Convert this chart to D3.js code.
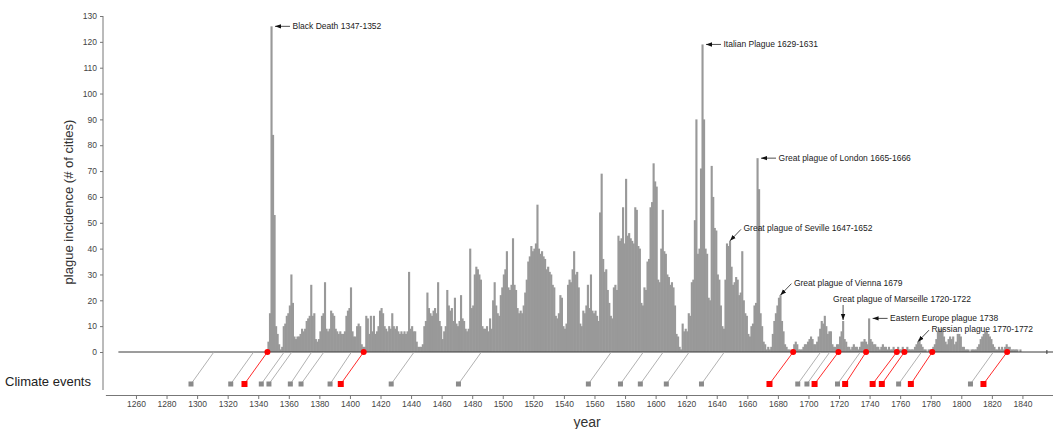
<!DOCTYPE html>
<html>
<head>
<meta charset="utf-8">
<script src="https://cdn.jsdelivr.net/npm/d3@7"></script>
<style>
  body { margin: 0; background: #fff; }
  svg { font-family: "Liberation Sans", Arial, sans-serif; }
</style>
</head>
<body>
<script>
// yearly plague incidence (# of cities), first value is 1346
const firstYear = 1346;
const incidence = [
  4, 15, 126, 84, 53, 10, 7, 3, 1, 2,
  10, 11, 14, 15, 18, 30, 19, 6, 5, 6,
  6, 7, 9, 8, 9, 12, 13, 14, 26, 14,
  15, 5, 4, 5, 8, 14, 15, 27, 9, 8,
  9, 16, 15, 14, 9, 8, 7, 8, 7, 7,
  8, 14, 16, 17, 25, 8, 6, 6, 10, 11,
  10, 3, 2, 2, 14, 13, 7, 14, 8, 14,
  7, 8, 10, 16, 17, 15, 10, 9, 8, 10,
  9, 15, 10, 9, 10, 8, 7, 8, 7, 8,
  7, 8, 31, 9, 10, 8, 8, 4, 2, 2,
  2, 3, 10, 12, 23, 17, 15, 14, 16, 17,       // 1446
  15, 27, 12, 10, 5, 8, 10, 24, 18, 16,
  17, 12, 21, 11, 10, 12, 22, 13, 12, 9,
  8, 9, 40, 17, 18, 30, 33, 32, 30, 28,
  10, 9, 9, 10, 8, 13, 9, 20, 27, 18,
  15, 14, 22, 25, 30, 32, 39, 25, 24, 26,
  44, 26, 24, 17, 15, 16, 15, 18, 23, 28,
  35, 37, 41, 39, 40, 42, 57, 40, 38, 39,
  37, 36, 32, 33, 31, 30, 26, 25, 14, 13,
  15, 22, 21, 10, 9, 11, 26, 28, 27, 32,
  39, 30, 31, 25, 11, 10, 16, 15, 18, 26,     // 1546
  17, 30, 16, 15, 16, 14, 12, 54, 69, 36,
  31, 32, 24, 19, 14, 13, 25, 26, 24, 45,
  43, 44, 56, 42, 67, 45, 46, 44, 43, 42,
  56, 55, 41, 40, 19, 18, 25, 24, 35, 36,
  56, 58, 73, 66, 64, 28, 27, 40, 55, 39,
  38, 30, 29, 26, 27, 25, 18, 7, 6, 2,
  1, 11, 8, 9, 8, 15, 14, 27, 28, 51,
  90, 38, 40, 71, 119, 90, 40, 38, 21, 20,
  72, 60, 48, 47, 30, 28, 18, 10, 9, 28,
  42, 41, 43, 33, 26, 27, 29, 28, 22, 23,     // 1646
  39, 20, 15, 14, 7, 6, 10, 11, 18, 19,
  75, 63, 15, 10, 4, 3, 1, 2, 1, 2,
  7, 12, 15, 18, 21, 22, 12, 8, 3, 2,
  1, 1, 0, 1, 3, 4, 3, 1, 1, 1,
  2, 3, 3, 4, 5, 6, 5, 3, 3, 4,
  6, 9, 12, 11, 14, 10, 7, 8, 8, 3,
  2, 2, 3, 3, 6, 8, 12, 5, 4, 2,
  2, 1, 2, 3, 2, 2, 1, 2, 4, 4,
  5, 4, 3, 13, 5, 4, 3, 3, 2, 2,
  1, 2, 3, 2, 2, 1, 2, 1, 1, 2,              // 1746
  1, 1, 2, 1, 1, 2, 1, 1, 2, 1,
  1, 1, 1, 2, 3, 4, 5, 3, 2, 1,
  1, 0, 1, 1, 1, 2, 3, 5, 8, 9,
  8, 9, 6, 4, 3, 5, 6, 5, 6, 3,
  4, 7, 7, 6, 2, 2, 1, 1, 1, 0,
  1, 1, 1, 1, 2, 3, 5, 6, 7, 8,
  8, 7, 6, 5, 3, 2, 1, 1, 2, 1,
  2, 1, 2, 3, 2, 2, 1, 1, 1, 1,
  1, 0, 1, 0, 0
];

const yTicks = d3.range(0, 131, 10);
const xTicks = d3.range(1260, 1841, 20);

// climate events in Asia and the year the link reaches the plague record
const grayYears    = [1296, 1322, 1342, 1347, 1361, 1368, 1387, 1427, 1471, 1556, 1577, 1590, 1607, 1630, 1693, 1699, 1719, 1759, 1806];
const grayArrivals = [1311, 1337, 1357, 1362, 1375, 1383, 1401, 1442, 1486, 1571, 1592, 1605, 1622, 1645, 1708, 1714, 1734, 1774, 1821];
const redYears     = [1331, 1394, 1674.5, 1704, 1724, 1742, 1748, 1767, 1814.5];
const redArrivals  = [1346, 1409, 1690, 1719.6, 1737.7, 1757.8, 1762.8, 1781, 1830];

const noteTexts = ["Black Death 1347-1352", "Italian Plague 1629-1631", "Great plague of London 1665-1666",
  "Great plague of Seville 1647-1652", "Great plague of Vienna 1679", "Great plague of Marseille 1720-1722",
  "Eastern Europe plague 1738", "Russian plague 1770-1772"];
const noteYears = [1348, 1630, 1666, 1648, 1681, 1722, 1739, 1771];
const noteKinds = ["left", "left", "left", "diag", "diag", "down", "left", "diag"];

const W = 1053, H = 429;
const svg = d3.select("body").append("svg")
    .attr("width", W)
    .attr("height", H);

const x = d3.scaleLinear().domain([1240, 1860]).range([105.4, 1053]);
const y = d3.scaleLinear().domain([0, 130]).range([352, 16]);

const bars = incidence.map((v, i) => ({year: firstYear + i, v: v}));

// bars overlap a little so no white seams show between them
svg.append("g").selectAll("rect")
    .data(bars)
    .enter()
    .append("rect")
    .attr("x", d => x(d.year))
    .attr("width", d => x(d.year + 1) - x(d.year) + 0.6)
    .attr("y", d => y(d.v))
    .attr("height", d => y(0) - y(d.v))
    .attr("fill", "#999999");

// zero line
svg.append("line")
    .attr("x1", x(1248.5)).attr("x2", W)
    .attr("y1", y(0)).attr("y2", y(0))
    .attr("stroke", "#3a3a3a").attr("stroke-width", 1);
svg.append("line")
    .attr("x1", x(1856)).attr("x2", x(1856))
    .attr("y1", y(0) - 2).attr("y2", y(0) + 2)
    .attr("stroke", "#3a3a3a");

// climate events row
const rowY = 384;
const gray = grayYears.map((d, i) => ({year: d, to: grayArrivals[i]}));
const red = redYears.map((d, i) => ({year: d, to: redArrivals[i]}));

svg.append("g").selectAll("line")
    .data(gray)
    .enter()
    .append("line")
    .attr("x1", d => x(d.year)).attr("y1", rowY)
    .attr("x2", d => x(d.to)).attr("y2", y(0))
    .attr("stroke", "#a8a8a8").attr("stroke-width", 0.9);

svg.append("g").selectAll("line")
    .data(red)
    .enter()
    .append("line")
    .attr("x1", d => x(d.year)).attr("y1", rowY)
    .attr("x2", d => x(d.to)).attr("y2", y(0))
    .attr("stroke", "#ff2a2a").attr("stroke-width", 1);

svg.append("g").selectAll("rect")
    .data(gray)
    .enter()
    .append("rect")
    .attr("x", d => x(d.year) - 2.5).attr("y", rowY - 2.5)
    .attr("width", 5).attr("height", 5)
    .attr("fill", "#8a8a8a");

svg.append("g").selectAll("rect")
    .data(red)
    .enter()
    .append("rect")
    .attr("x", d => x(d.year) - 3).attr("y", rowY - 3)
    .attr("width", 6).attr("height", 6)
    .attr("fill", "#ff0000");

svg.append("g").selectAll("circle")
    .data(red)
    .enter()
    .append("circle")
    .attr("cx", d => x(d.to)).attr("cy", y(0))
    .attr("r", 3)
    .attr("fill", "#ff0000");

// axes
const yAxis = svg.append("g")
    .attr("transform", "translate(103,0)")
    .call(d3.axisLeft(y).tickValues(yTicks).tickSize(3).tickPadding(3));
yAxis.select(".domain").remove();
svg.append("line")
    .attr("x1", 103).attr("x2", 103)
    .attr("y1", 16).attr("y2", 390)
    .attr("stroke", "#777");

const xAxis = svg.append("g")
    .attr("transform", "translate(0,395)")
    .call(d3.axisBottom(x).tickValues(xTicks).tickFormat(d3.format("d")).tickSize(4).tickSizeOuter(0).tickPadding(2));

svg.selectAll(".tick line").attr("stroke", "#777");
xAxis.select(".domain").attr("stroke", "#777");
svg.selectAll(".tick text").attr("fill", "#444").style("font-size", "8.5px")
    .style("font-family", "'Liberation Sans', Arial, sans-serif");

svg.append("text")
    .attr("transform", "translate(68,202) rotate(-90)")
    .attr("text-anchor", "middle")
    .attr("dy", "0.35em")
    .style("font-size", "13px")
    .attr("fill", "#333")
    .text("plague incidence (# of cities)");

svg.append("text")
    .attr("x", 5).attr("y", 381)
    .attr("dy", "0.35em")
    .style("font-size", "13px")
    .attr("fill", "#222")
    .text("Climate events");

svg.append("text")
    .attr("x", 587).attr("y", 422)
    .attr("dy", "0.35em")
    .attr("text-anchor", "middle")
    .style("font-size", "14px")
    .attr("fill", "#333")
    .text("year");

// annotations
svg.append("defs").append("marker")
    .attr("id", "arr")
    .attr("viewBox", "0 0 6 6")
    .attr("refX", 0).attr("refY", 3)
    .attr("markerWidth", 6).attr("markerHeight", 6)
    .attr("markerUnits", "userSpaceOnUse")
    .attr("orient", "auto")
    .append("path")
    .attr("d", "M0,3 L6,0.8 L6,5.2 Z")
    .attr("fill", "#111");

const notes = noteTexts.map((t, i) => {
    const yr = noteYears[i];
    return {text: t, year: yr, v: incidence[yr - firstYear], kind: noteKinds[i]};
});

const ng = svg.append("g");
notes.forEach(n => {
    let tx, ty, x1, y1, x2, y2;
    if (n.kind === "left") {
        x1 = x(n.year + 1) + 3; y1 = y(n.v);
        x2 = x1 + 15; y2 = y1;
        tx = x2 + 2.5; ty = y1;
    } else if (n.kind === "diag") {
        x1 = x(n.year) + 1; y1 = y(n.v);
        x2 = x1 + 11; y2 = y1 - 11.5;
        tx = x1 + 13.5; ty = y1 - 12.5;
    } else {
        x1 = x(n.year) + 1; y1 = y(n.v) - 1;
        x2 = x1; y2 = y1 - 15;
        tx = x1 - 10; ty = y2 - 5.5;
    }
    ng.append("line")
        .attr("x1", x1).attr("y1", y1)
        .attr("x2", x2).attr("y2", y2)
        .attr("stroke", "#222").attr("stroke-width", 0.8)
        .attr("marker-start", "url(#arr)");
    ng.append("text")
        .attr("x", tx).attr("y", ty)
        .attr("dy", "0.35em")
        .style("font-size", "8.5px")
        .attr("fill", "#222")
        .text(n.text);
});
</script>
</body>
</html>
